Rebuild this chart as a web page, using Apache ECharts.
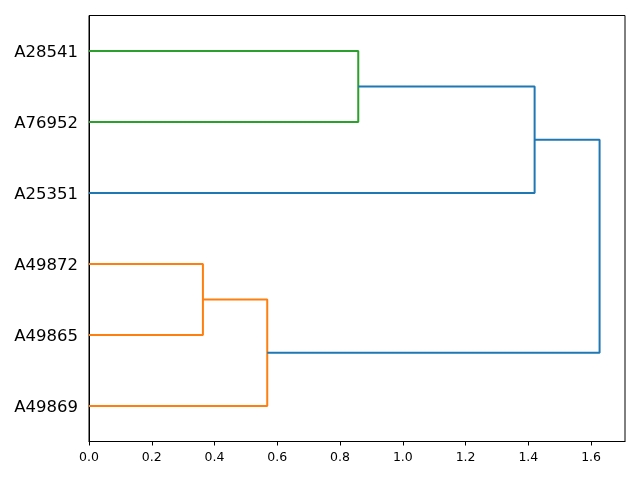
<!DOCTYPE html>
<html>
<head>
<meta charset="utf-8">
<script src="https://cdn.jsdelivr.net/npm/echarts@6/dist/echarts.min.js"></script>
<style>html,body{margin:0;padding:0;background:#fff}#c{width:640px;height:480px}</style>
</head>
<body>
<div id="c"></div>
<script>
// leaf labels, bottom to top (positions 5, 15, ..., 55)
const leafLabels = ['A49869', 'A49865', 'A49872', 'A25351', 'A76952', 'A28541'];
const leafPositions = [5, 15, 25, 35, 45, 55];
// links: y (icoord) and x (dcoord) as in scipy dendrogram
const linkY = [
  [55, 55, 45, 45],
  [50, 50, 35, 35],
  [25, 25, 15, 15],
  [20, 20, 5, 5],
  [42.5, 42.5, 12.5, 12.5]
];
const linkX = [
  [0, 0.858, 0.858, 0],
  [0.858, 1.420, 1.420, 0],
  [0, 0.363, 0.363, 0],
  [0.363, 0.568, 0.568, 0],
  [1.420, 1.627, 1.627, 0.568]
];
const linkColors = ['#2ca02c', '#1f77b4', '#ff7f0e', '#ff7f0e', '#1f77b4'];
const xTicks = [0, 0.2, 0.4, 0.6, 0.8, 1.0, 1.2, 1.4, 1.6];
const xMax = 1.708;

const series = linkY.map((ys, i) => ({
  type: 'line',
  data: ys.map((y, j) => [linkX[i][j], y]),
  symbol: 'none',
  lineStyle: { color: linkColors[i], width: 2 },
  animation: false,
  silent: true
}));

const chart = echarts.init(document.getElementById('c'), null, { renderer: 'canvas' });
chart.setOption({
  animation: false,
  grid: { left: 89, right: 15, top: 15.5, bottom: 38.5, show: true, borderColor: '#000', borderWidth: 1, backgroundColor: 'transparent' },
  xAxis: {
    type: 'value', min: 0, max: xMax,
    axisLine: { show: true, lineStyle: { color: '#000', width: 1 } },
    axisTick: { show: true, length: 4, lineStyle: { color: '#000' }, customValues: xTicks },
    axisLabel: { customValues: xTicks, formatter: v => v.toFixed(1), color: '#000', fontSize: 12.5, fontFamily: 'DejaVu Sans', margin: 10 },
    splitLine: { show: false }
  },
  yAxis: {
    type: 'value', min: 0, max: 60,
    axisLine: { show: true, lineStyle: { color: '#000', width: 1 } },
    axisTick: { show: false },
    axisLabel: {
      customValues: leafPositions,
      formatter: v => '{a|' + (leafLabels[leafPositions.indexOf(v)] || '') + '}',
      rich: { a: { color: '#000', fontSize: 16.5, fontFamily: 'DejaVu Sans', padding: [3, 0, 0, 0] } },
      color: '#000', fontSize: 16.5, fontFamily: 'DejaVu Sans', margin: 11
    },
    splitLine: { show: false }
  },
  series: series
});
</script>
</body>
</html>
